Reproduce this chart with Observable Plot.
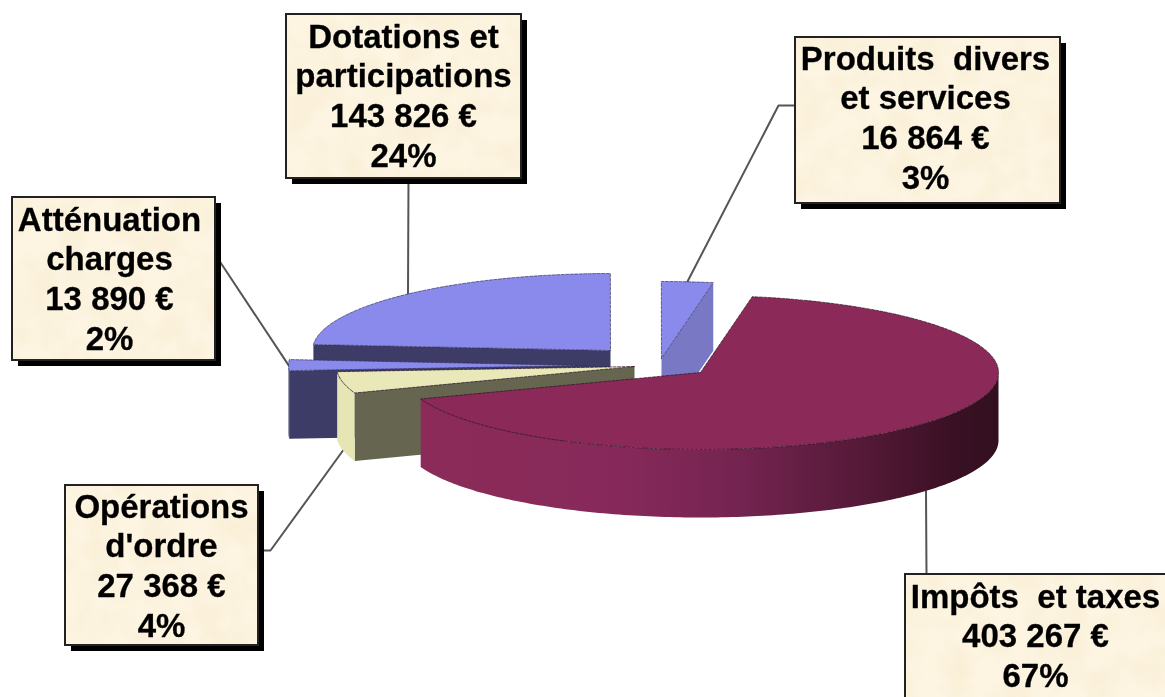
<!DOCTYPE html>
<html><head><meta charset="utf-8">
<script src="https://cdn.jsdelivr.net/npm/d3@7"></script>
<script src="https://cdn.jsdelivr.net/npm/@observablehq/plot@0.6"></script>
<style>html,body{margin:0;padding:0;background:#fff;overflow:hidden}svg{display:block;filter:blur(0.45px)}</style>
</head><body><div id="chart"></div>
<script>
// Data, clockwise from the start of the pie
const categories = ["Impôts et taxes","Opérations d'ordre","Atténuation charges","Dotations et participations","Produits divers et services"];
const amounts = [403267,27368,13890,143826,16864];
const amountLabels = ["403 267 €","27 368 €","13 890 €","143 826 €","16 864 €"];
const percentLabels = ["67%","4%","2%","24%","3%"];
const nameLines = ["Impôts  et taxes","Opérations\nd'ordre","Atténuation\ncharges","Dotations et\nparticipations","Produits  divers\net services"];

// Layout
const W=1165,H=697,RX=298,RY=77,DEPTH=68,START=80;
const centers=[[700,372],[634,366],[586,365],[610,350],[661,358]];
const boxes=[[905,574,1172,702],[65,485,258,645],[12,197,215,360],[286,14,521,178],[795,37,1060,203]];
const textCenters=[[1035,634],[161,564],[109,277],[403,94],[925,116]];
// leader: point on the box, optional elbow, attach on slice
const leaderBox=[[926,574],[258,550],[220,262],[408,178],[795,105]];
const leaderElbow=[null,[270,550],null,null,[778,105]];
const leaderDrop=[DEPTH,DEPTH,0,0,0];
const leaderNudge=[-3,0,0,0,0];
const cutEnd=["none","from","from","from","to"];
const topColor=["#8b2a58","#e8e8b8","#8a8aec","#8a8aec","#8a8aec"];
const sideColor=["url(#maroon)","#e6e6b4","#3c3c66","#3c3c66","#7878c4"];
const cutColor=[null,"#666650","#3c3c66","#3c3c66","#7878c4"];

const total=d3.sum(amounts);
let a=START;
const slices=amounts.map((v,i)=>{const sweep=v/total*360;const s={i,from:a,to:a-sweep,mid:a-sweep/2,c:centers[i]};a-=sweep;return s;});
const pt=(s,t,drop=0)=>({x:s.c[0]+RX*Math.cos(t*Math.PI/180),y:s.c[1]-RY*Math.sin(t*Math.PI/180)+drop});
const arc=(s,t0,t1,drop=0)=>{const n=Math.max(2,Math.ceil(Math.abs(t1-t0)));return d3.range(n+1).map(k=>pt(s,t0+(t1-t0)*k/n,drop));};
const apex=(s,drop=0)=>({x:s.c[0],y:s.c[1]+drop});
const poly=(pts,fill)=>Plot.line([...pts,pts[0]],{x:"x",y:"y",fill,stroke:"none"});
const edge=(pts,stroke)=>Plot.line(pts,{x:"x",y:"y",stroke,strokeWidth:0.9,strokeDasharray:"3 1.5",strokeOpacity:0.75});

function sliceMarks(s){
  const marks=[];
  const norm=t=>((t%360)+360)%360;
  const f=norm(s.to), span=s.from-s.to;
  // outer wall: only the part facing the viewer (angles 180..360)
  const wStart=Math.max(f,180), wEnd=Math.min(f+span,360);
  // cut face that faces the viewer
  if(cutColor[s.i]){
    const t=s[cutEnd[s.i]];
    marks.push(poly([apex(s),pt(s,t),pt(s,t,DEPTH),apex(s,DEPTH)],cutColor[s.i]));
  }
  if(wEnd>wStart){
    marks.push(poly([...arc(s,wStart,wEnd),...arc(s,wEnd,wStart,DEPTH)],sideColor[s.i]));
  }
  marks.push(poly([apex(s),...arc(s,s.from,s.to)],topColor[s.i]));
  marks.push(edge([apex(s),...arc(s,s.from,s.to),apex(s)],s.i<2?"#2a1020":"#30305a"));
  return marks;
}
// Painter's order: back slices first
const order=[3,4,2,1,0];
const pieMarks=order.flatMap(i=>sliceMarks(slices[i]));

const leaders=slices.map(s=>{
  const p=pt(s,s.mid,leaderDrop[s.i]);
  const end={x:p.x+leaderNudge[s.i],y:p.y};
  const pts=[{x:leaderBox[s.i][0],y:leaderBox[s.i][1]}];
  if(leaderElbow[s.i])pts.push({x:leaderElbow[s.i][0],y:leaderElbow[s.i][1]});
  pts.push(end);
  return Plot.line(pts,{x:"x",y:"y",stroke:"#555",strokeWidth:2});
});

const labels=categories.map((c,i)=>({
  text:`${nameLines[i]}\n${amountLabels[i]}\n${percentLabels[i]}`,
  x:textCenters[i][0],y:textCenters[i][1],
  x1:boxes[i][0],y1:boxes[i][1],x2:boxes[i][2],y2:boxes[i][3]
}));

const defs=()=>{
  const svg=d3.create("svg:defs");
  const g=svg.append("linearGradient").attr("id","maroon").attr("x1","0").attr("x2","1").attr("y1","0").attr("y2","0");
  [[0,"#8c2b59"],[0.35,"#86295a"],[0.55,"#742450"],[0.75,"#571a39"],[0.92,"#3a1024"],[1,"#32101f"]]
    .forEach(([o,c])=>g.append("stop").attr("offset",o).attr("stop-color",c));
  const f=svg.append("filter").attr("id","paper").attr("x","0").attr("y","0").attr("width","1").attr("height","1");
  f.append("feTurbulence").attr("type","fractalNoise").attr("baseFrequency","0.035").attr("numOctaves",3).attr("seed",4).attr("result","n");
  f.append("feColorMatrix").attr("in","n").attr("type","matrix")
    .attr("values","0 0 0 0 0.93  0 0 0 0 0.80  0 0 0 0 0.58  0.9 0 0 0 -0.32").attr("result","tint");
  f.append("feComposite").attr("in","tint").attr("in2","SourceAlpha").attr("operator","in").attr("result","clipped");
  const m=f.append("feMerge");
  m.append("feMergeNode").attr("in","SourceGraphic");
  m.append("feMergeNode").attr("in","clipped");
  return svg.node();
};

const chart=Plot.plot({
  width:W,height:H,margin:0,
  x:{domain:[0,W],range:[0,W],axis:null},
  y:{domain:[0,H],range:[0,H],axis:null},
  style:{background:"#fff"},
  marks:[
    defs,
    ...leaders,
    ...pieMarks,
    Plot.rect(labels,{x1:d=>d.x1+6,x2:d=>d.x2+6,y1:d=>d.y1+6,y2:d=>d.y2+6,fill:"#000"}),
    Plot.rect(labels,{x1:"x1",x2:"x2",y1:"y1",y2:"y2",fill:"#fdf5e2",imageFilter:"url(#paper)"}),
    Plot.rect(labels,{x1:"x1",x2:"x2",y1:"y1",y2:"y2",fill:"none",stroke:"#222",strokeWidth:2}),
    Plot.text(labels,{x:"x",y:"y",text:"text",fontFamily:"Liberation Sans",fontWeight:"bold",fontSize:33,lineHeight:1.2,fill:"#000",stroke:"#000",strokeWidth:0.3,textAnchor:"middle"})
  ]
});
document.getElementById("chart").append(chart);
</script></body></html>
